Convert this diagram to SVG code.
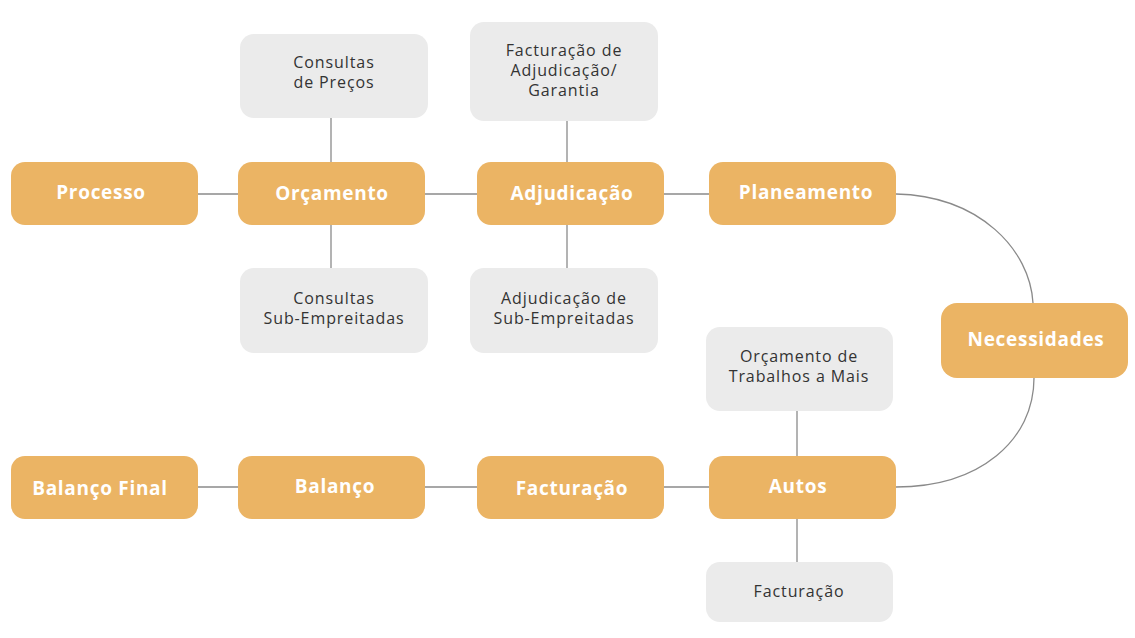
<svg xmlns="http://www.w3.org/2000/svg" width="1135" height="638" viewBox="0 0 1135 638">
<style>
.main rect{fill:#EBB464;}
.sub rect{fill:#EBEBEB;}
.main text{font-family:"Open Sans","DejaVu Sans",sans-serif;font-weight:700;font-size:19px;letter-spacing:0.7px;fill:#ffffff;text-anchor:middle;}
.sub text{font-family:"Open Sans","DejaVu Sans",sans-serif;font-weight:400;font-size:16px;letter-spacing:0.9px;fill:#333333;text-anchor:middle;}
#connectors path,#connectors line{stroke:#8a8a8a;stroke-width:1.3;fill:none;}
</style>
<rect width="1135" height="638" fill="#ffffff"/>
<g id="connectors">
<line x1="198" y1="194" x2="238" y2="194"/>
<line x1="425" y1="194" x2="477" y2="194"/>
<line x1="664" y1="194" x2="709" y2="194"/>
<line x1="331" y1="118" x2="331" y2="162"/>
<line x1="331" y1="225" x2="331" y2="268"/>
<line x1="567" y1="121" x2="567" y2="162"/>
<line x1="567" y1="225" x2="567" y2="268"/>
<path d="M896,194 C980,196 1030,250 1033,303"/>
<path d="M1034,378 C1034,440 980,487 896,487"/>
<line x1="797" y1="411" x2="797" y2="456"/>
<line x1="797" y1="519" x2="797" y2="562"/>
<line x1="198" y1="487" x2="238" y2="487"/>
<line x1="425" y1="487" x2="477" y2="487"/>
<line x1="664" y1="487" x2="709" y2="487"/>
</g>
<g id="processo" class="main"><rect x="11" y="162" width="187" height="63" rx="14"/><text x="101" y="199">Processo</text></g>
<g id="orcamento" class="main"><rect x="238" y="162" width="187" height="63" rx="14"/><text x="332" y="200">Orçamento</text></g>
<g id="adjudicacao" class="main"><rect x="477" y="162" width="187" height="63" rx="14"/><text x="572" y="200">Adjudicação</text></g>
<g id="planeamento" class="main"><rect x="709" y="162" width="187" height="63" rx="14"/><text x="806" y="199">Planeamento</text></g>
<g id="necessidades" class="main"><rect x="941" y="303" width="187" height="75" rx="16"/><text x="1036" y="346">Necessidades</text></g>
<g id="autos" class="main"><rect x="709" y="456" width="187" height="63" rx="14"/><text x="798" y="493">Autos</text></g>
<g id="facturacao" class="main"><rect x="477" y="456" width="187" height="63" rx="14"/><text x="572" y="495">Facturação</text></g>
<g id="balanco" class="main"><rect x="238" y="456" width="187" height="63" rx="14"/><text x="335" y="493">Balanço</text></g>
<g id="balanco-final" class="main"><rect x="11" y="456" width="187" height="63" rx="14"/><text x="100" y="495">Balanço Final</text></g>
<g id="consultas-precos" class="sub"><rect x="240" y="34" width="188" height="84" rx="14"/><text x="334" y="68">Consultas</text><text x="334" y="88">de Preços</text></g>
<g id="facturacao-adjudicacao" class="sub"><rect x="470" y="22" width="188" height="99" rx="14"/><text x="564" y="56">Facturação de</text><text x="564" y="76">Adjudicação/</text><text x="564" y="96">Garantia</text></g>
<g id="consultas-sub" class="sub"><rect x="240" y="268" width="188" height="85" rx="14"/><text x="334" y="304">Consultas</text><text x="334" y="324">Sub-Empreitadas</text></g>
<g id="adjudicacao-sub" class="sub"><rect x="470" y="268" width="188" height="85" rx="14"/><text x="564" y="304">Adjudicação de</text><text x="564" y="324">Sub-Empreitadas</text></g>
<g id="orcamento-trabalhos" class="sub"><rect x="706" y="327" width="187" height="84" rx="14"/><text x="799" y="362">Orçamento de</text><text x="799" y="382">Trabalhos a Mais</text></g>
<g id="facturacao-autos" class="sub"><rect x="706" y="562" width="187" height="60" rx="14"/><text x="799" y="597">Facturação</text></g>
</svg>
